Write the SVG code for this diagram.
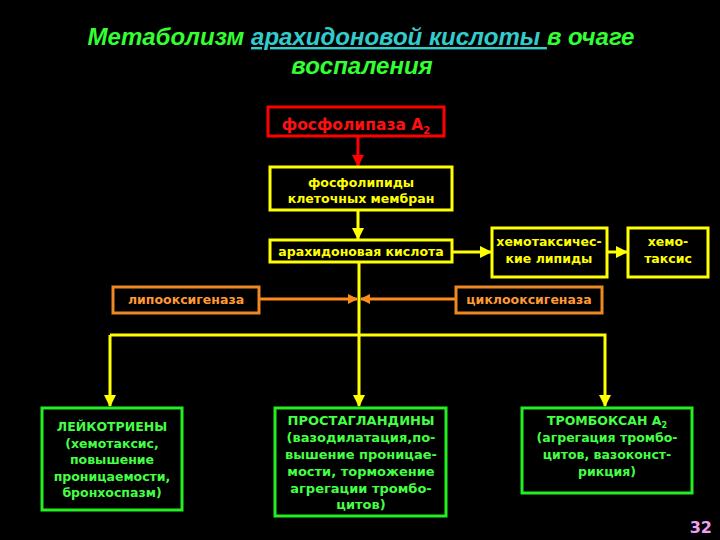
<svg xmlns="http://www.w3.org/2000/svg" width="720" height="540" viewBox="0 0 720 540">
<style>
.title{font-family:"Liberation Sans",Arial,sans-serif;font-weight:bold;font-style:italic;font-size:24px;fill:#33ff33}
.t{font-family:"DejaVu Sans",Verdana,sans-serif;font-weight:bold;font-size:12.5px;text-anchor:middle}
.y{fill:#ffff00}.o{fill:#ff9933}.g{fill:#44ff44}.r{fill:#ff1010}
.by{fill:none;stroke:#ffff00;stroke-width:3}
.bo{fill:none;stroke:#ee8822;stroke-width:3}
.bg{fill:none;stroke:#22ee22;stroke-width:3}
.br{fill:none;stroke:#ff0000;stroke-width:3}
.cy{stroke:#ffff00;stroke-width:3;fill:none}
.co{stroke:#ff8c1a;stroke-width:3;fill:none}
.cr{stroke:#ff0000;stroke-width:3;fill:none}
</style>
<defs>
<marker id="ay" markerUnits="userSpaceOnUse" markerWidth="12" markerHeight="12" viewBox="0 0 12 12" refX="11" refY="6" orient="auto"><path d="M0,0 L12,6 L0,12 Z" fill="#ffff00"/></marker>
<marker id="ao" markerUnits="userSpaceOnUse" markerWidth="10" markerHeight="10" viewBox="0 0 10 10" refX="9" refY="5" orient="auto"><path d="M0,0 L10,5 L0,10 Z" fill="#ff8c1a"/></marker>
<marker id="ar" markerUnits="userSpaceOnUse" markerWidth="12" markerHeight="12" viewBox="0 0 12 12" refX="11" refY="6" orient="auto"><path d="M0,0 L12,6 L0,12 Z" fill="#ff0000"/></marker>
</defs>
<rect width="720" height="540" fill="#000"/>
<g id="title">
<text class="title" x="361" y="45" text-anchor="middle">Метаболизм <tspan fill="#33cccc" text-decoration="underline">арахидоновой кислоты </tspan>в очаге</text>
<text class="title" x="362" y="74" text-anchor="middle">воспаления</text>
</g>
<g id="connectors">
<line class="cr" x1="358" y1="137" x2="358" y2="166" marker-end="url(#ar)"/>
<line class="cy" x1="358" y1="210" x2="358" y2="239" marker-end="url(#ay)"/>
<line class="cy" x1="452" y1="252" x2="491" y2="252" marker-end="url(#ay)"/>
<line class="cy" x1="607" y1="252" x2="627" y2="252" marker-end="url(#ay)"/>
<line class="cy" x1="359" y1="262" x2="359" y2="406" marker-end="url(#ay)"/>
<polyline class="cy" points="110,335 605,335 605,406" marker-end="url(#ay)"/>
<line class="cy" x1="110" y1="335" x2="110" y2="406" marker-end="url(#ay)"/>
<line class="co" x1="259" y1="299" x2="357" y2="299" marker-end="url(#ao)"/>
<line class="co" x1="456" y1="299" x2="361" y2="299" marker-end="url(#ao)"/>
</g>
<g id="phospholipase">
<rect class="br" x="268" y="107" width="176" height="29"/>
<text class="t r" x="356" y="130" style="font-size:15.5px">фосфолипаза А<tspan font-size="10" dy="4">2</tspan></text>
</g>
<g id="phospholipids">
<rect class="by" x="270" y="167" width="182" height="43"/>
<text class="t y" x="361" y="187">фосфолипиды</text>
<text class="t y" x="361" y="203">клеточных мембран</text>
</g>
<g id="arachidonic">
<rect class="by" x="270" y="240" width="182" height="22"/>
<text class="t y" x="361" y="256">арахидоновая кислота</text>
</g>
<g id="chemolipids">
<rect class="by" x="492" y="228" width="115" height="49"/>
<text class="t y" x="549" y="246">хемотаксичес-</text>
<text class="t y" x="549" y="263">кие липиды</text>
</g>
<g id="chemotaxis">
<rect class="by" x="628" y="228" width="80" height="49"/>
<text class="t y" x="668" y="246">хемо-</text>
<text class="t y" x="668" y="263">таксис</text>
</g>
<g id="lipoxygenase">
<rect class="bo" x="113" y="287" width="146" height="26"/>
<text class="t o" x="186" y="304">липооксигеназа</text>
</g>
<g id="cyclooxygenase">
<rect class="bo" x="456" y="287" width="146" height="26"/>
<text class="t o" x="529" y="304">циклооксигеназа</text>
</g>
<g id="leukotrienes">
<rect class="bg" x="42" y="408" width="140" height="102"/>
<text class="t g" x="112" y="431">ЛЕЙКОТРИЕНЫ</text>
<text class="t g" x="112" y="448">(хемотаксис,</text>
<text class="t g" x="112" y="464">повышение</text>
<text class="t g" x="112" y="481">проницаемости,</text>
<text class="t g" x="112" y="497">бронхоспазм)</text>
</g>
<g id="prostaglandins" style="font-size:13px">
<rect class="bg" x="275" y="408" width="171" height="108"/>
<text class="t g" x="361" y="425" style="font-size:13px">ПРОСТАГЛАНДИНЫ</text>
<text class="t g" x="361" y="442" style="font-size:13px">(вазодилатация,по-</text>
<text class="t g" x="361" y="459" style="font-size:13px">вышение проницае-</text>
<text class="t g" x="361" y="476" style="font-size:13px">мости, торможение</text>
<text class="t g" x="361" y="493" style="font-size:13px">агрегации тромбо-</text>
<text class="t g" x="361" y="509" style="font-size:13px">цитов)</text>
</g>
<g id="thromboxane">
<rect class="bg" x="522" y="408" width="170" height="85"/>
<text class="t g" x="607" y="425">ТРОМБОКСАН А<tspan font-size="8" dy="3">2</tspan></text>
<text class="t g" x="607" y="442">(агрегация тромбо-</text>
<text class="t g" x="607" y="459">цитов, вазоконст-</text>
<text class="t g" x="607" y="476">рикция)</text>
</g>
<text x="712" y="533" text-anchor="end" style="font-family:'DejaVu Sans',sans-serif;font-weight:bold;font-size:16px;fill:#f0a0f0">32</text>
</svg>
